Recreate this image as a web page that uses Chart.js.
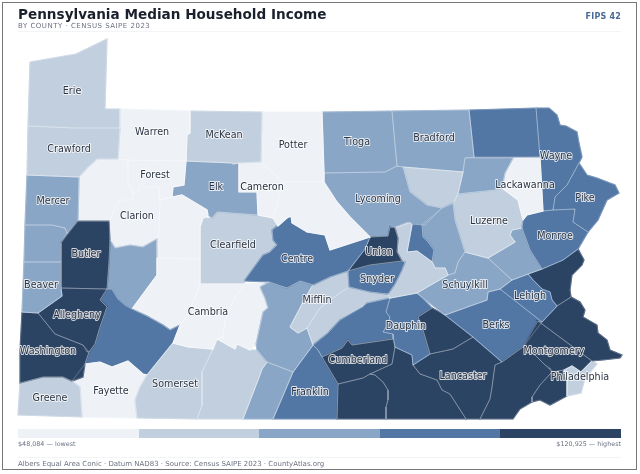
<!DOCTYPE html>
<html>
<head>
<meta charset="utf-8">
<title>Pennsylvania Median Household Income</title>
<script src="https://cdn.jsdelivr.net/npm/chart.js@4/dist/chart.umd.min.js"></script>
<style>
    html, body { margin: 0; padding: 0; background: #fff; }
    body { width: 640px; height: 474px; position: relative; overflow: hidden; font-family: "DejaVu Sans", sans-serif; }
    #map { position: absolute; left: 0; top: 0; }
    .frame { position: absolute; left: 2px; top: 2px; width: 633px; height: 466px; border: 1px solid #777; }
    .txt { position: absolute; white-space: nowrap; }
    #title { left: 18px; top: 4px; font-size: 13.6px; line-height: 20px; font-weight: bold; color: #1a202c; }
    #sub { left: 18px; top: 21px; font-size: 7px; line-height: 10px; color: #6b7280; letter-spacing: 0.5px; }
    #fips { right: 19px; top: 11px; font-size: 8px; line-height: 12px; font-weight: bold; color: #4a6a96; letter-spacing: 0.2px; }
    .rule { position: absolute; left: 18px; width: 603px; height: 1px; background: #f3f4f6; }
    #ramp { position: absolute; left: 18px; top: 429px; width: 603px; height: 9px; display: flex; }
    #ramp div { flex: 1; }
    .small { font-size: 6.4px; line-height: 10px; color: #6b7280; }
    #foot { left: 18px; top: 459px; font-size: 7px; line-height: 10px; color: #6b7280; }
</style>
</head>
<body>
<canvas id="map" width="640" height="474"></canvas>
<div class="frame"></div>
<div class="txt" id="title">Pennsylvania Median Household Income</div>
<div class="txt" id="sub">BY COUNTY · CENSUS SAIPE 2023</div>
<div class="txt" id="fips">FIPS 42</div>
<div class="rule" style="top:31px"></div>
<div id="ramp"></div>
<div class="txt small" style="left:18px;top:439px">$48,084 — lowest</div>
<div class="txt small" style="right:19px;top:439px">$120,925 — highest</div>
<div class="rule" style="top:457px"></div>
<div class="txt" id="foot">Albers Equal Area Conic · Datum NAD83 · Source: Census SAIPE 2023 · CountyAtlas.org</div>

<script>
// income bins, low to high
const binColors = ['#eef1f6', '#c1cfdf', '#8aa6c6', '#5277a5', '#2c4464'];

// county outlines (map units)
const erie = [[30,62],[76,54],[107,39],[105,109],[120,109],[120,128],[74,128],[28,126]];
const crawford = [[28,126],[74,128],[120,128],[118,159],[97,159],[88,167],[79,177],[27,175]];
const warren = [[120,109],[190,111],[190,133],[187,135],[186,161],[128,160],[118,159],[120,128]];
const mckean = [[190,111],[262,112],[261,162],[239,163],[233,164],[233,163],[186,161],[187,135],[190,133]];
const potter = [[262,112],[322,112],[324,173],[324,182],[283,182],[261,162]];
const cameron = [[239,163],[261,162],[283,182],[273,218],[258,215],[257,192],[239,192]];
const clinton = [[283,182],[324,182],[337,202],[350,217],[370,237],[330,250],[325,235],[307,232],[292,223],[291,216],[287,218],[278,226],[273,218]];
const centre = [[244,281],[252,270],[263,255],[270,252],[277,245],[273,240],[272,230],[287,218],[291,216],[292,223],[307,232],[325,235],[330,250],[370,237],[365,249],[348,271],[330,277],[313,285],[300,281],[287,288],[269,282]];
const union = [[370,237],[388,236],[390,227],[395,228],[398,238],[397,252],[402,261],[370,265],[348,271],[365,249]];
const snyder = [[348,271],[370,265],[402,261],[405,262],[402,270],[395,284],[388,294],[370,292],[349,287]];
const northumberland = [[395,228],[410,223],[412,225],[407,252],[417,251],[432,262],[435,268],[445,268],[448,275],[417,293],[390,298],[388,294],[395,284],[402,270],[405,262],[402,261],[397,252],[398,238]];
const montour = [[412,224],[422,225],[423,237],[428,242],[434,250],[432,262],[417,251],[407,252]];
const columbia = [[442,208],[453,203],[455,220],[465,252],[458,262],[455,273],[448,275],[445,268],[435,268],[432,262],[434,250],[428,242],[423,237],[422,225]];
const lycoming = [[324,173],[385,172],[397,166],[403,167],[410,192],[427,205],[442,208],[425,225],[412,224],[408,222],[395,227],[390,227],[388,236],[370,237],[350,217],[337,202],[324,182]];
const sullivan = [[403,167],[463,172],[458,193],[454,203],[442,208],[427,205],[410,192]];
const tioga = [[322,112],[392,111],[397,166],[385,172],[324,173]];
const bradford = [[392,111],[469,110],[474,157],[465,158],[463,172],[403,167],[397,166]];
const susquehanna = [[469,110],[536,108],[540,157],[474,157]];
const wyoming = [[465,158],[513,158],[505,173],[502,188],[495,190],[458,194],[463,172]];
const lackawanna = [[513,158],[540,157],[543,211],[527,215],[523,220],[518,200],[502,188],[505,173]];
const wayne = [[536,108],[549,108],[557,115],[560,125],[566,126],[577,132],[579,143],[582,157],[579,163],[567,185],[555,197],[553,210],[543,211],[540,157]];
const pike = [[579,163],[587,175],[597,178],[615,185],[619,193],[607,200],[598,220],[588,232],[573,222],[575,209],[553,210],[555,197],[567,185]];
const monroe = [[527,215],[543,211],[553,210],[575,209],[573,222],[588,232],[578,249],[563,260],[542,269],[530,250],[522,228],[523,220]];
const luzerne = [[458,194],[495,190],[502,188],[518,200],[523,220],[522,228],[512,230],[510,235],[515,242],[488,258],[465,252],[455,220],[453,203]];
const carbon = [[512,230],[522,228],[530,250],[542,269],[528,274],[512,280],[488,258],[515,242],[510,235]];
const schuylkill = [[465,252],[488,258],[512,280],[500,289],[488,292],[487,300],[473,305],[445,315],[417,293],[448,275],[455,273],[458,262]];
const lehigh = [[500,289],[512,280],[528,274],[533,280],[542,289],[550,292],[552,300],[557,306],[542,322]];
const northampton = [[528,274],[542,269],[563,260],[578,249],[584,260],[582,265],[572,275],[570,290],[571,297],[557,306],[552,300],[550,292],[542,289],[533,280]];
const bucks = [[557,306],[571,297],[580,302],[585,310],[583,317],[597,325],[598,333],[607,340],[610,350],[622,355],[620,358],[603,360],[592,361],[538,321],[542,322]];
const philadelphia = [[592,361],[597,364],[585,378],[581,393],[567,396],[567,380],[564,370],[572,366],[581,372]];
const montgomery = [[538,321],[592,361],[581,372],[572,366],[564,370],[553,372],[550,368],[545,365],[539,359],[535,355],[523,347]];
const delaware = [[552,372],[564,370],[567,380],[567,396],[550,405],[540,400],[532,402],[532,397],[540,385]];
const chester = [[523,347],[535,355],[539,359],[545,365],[552,372],[540,385],[532,397],[532,402],[520,409],[513,419],[480,419],[490,399],[492,387],[495,365],[502,362]];
const berks = [[445,315],[473,305],[487,300],[488,292],[500,289],[542,322],[523,347],[502,362],[473,337]];
const lebanon = [[432,308],[445,315],[473,337],[453,349],[430,354],[423,330],[418,317]];
const dauphin = [[390,298],[417,293],[432,308],[418,317],[423,330],[430,354],[413,365],[412,355],[395,347],[393,334],[383,332],[388,324],[390,317],[386,312]];
const lancaster = [[413,365],[430,354],[453,349],[473,337],[502,362],[495,365],[492,387],[490,399],[480,419],[466,419],[450,394],[442,390],[437,380],[420,374]];
const york = [[370,374],[392,364],[395,347],[412,355],[413,365],[420,374],[437,380],[442,390],[450,394],[466,419],[386,419],[386,407],[388,400],[388,390],[383,382],[375,375]];
const adams = [[338,384],[363,378],[370,374],[375,375],[383,382],[388,390],[388,400],[386,407],[386,419],[337,419]];
const cumberland = [[322,357],[342,348],[348,340],[352,345],[393,339],[395,347],[392,364],[370,374],[363,378],[338,384]];
const perry = [[313,345],[328,333],[340,320],[363,307],[367,303],[390,298],[386,312],[390,317],[388,324],[383,332],[393,334],[393,339],[352,345],[348,340],[342,348],[322,357],[318,350]];
const juniata = [[307,328],[320,308],[337,295],[349,287],[370,292],[388,294],[390,298],[367,303],[340,320],[328,333],[313,345]];
const mifflin = [[290,327],[300,308],[305,298],[313,285],[330,277],[348,271],[349,287],[337,295],[320,308],[307,328],[298,333]];
const huntingdon = [[260,287],[269,282],[287,288],[300,281],[313,285],[305,298],[300,308],[290,327],[298,333],[307,328],[313,345],[293,372],[267,362],[257,350],[256,344],[263,312],[268,308],[265,298]];
const cambria = [[200,284],[245,284],[235,297],[225,320],[223,337],[217,339],[213,349],[188,347],[173,343],[180,325],[187,317]];
const blair = [[245,284],[269,282],[260,287],[265,298],[268,308],[263,312],[256,344],[250,350],[237,344],[235,349],[217,339],[223,337],[225,320],[235,297]];
const bedford = [[217,339],[235,349],[237,344],[250,350],[257,350],[267,362],[262,369],[258,380],[243,419],[197,419],[202,405],[202,372],[213,349]];
const somerset = [[173,343],[188,347],[213,349],[202,372],[202,405],[197,419],[137,418],[135,400],[140,387],[147,375]];
const fulton = [[267,362],[293,372],[273,419],[243,419],[258,380],[262,369]];
const franklin = [[293,372],[313,345],[318,350],[322,357],[338,384],[337,419],[273,419]];
const butler = [[78,221],[109,221],[110,240],[109,262],[107,289],[61,288],[61,243]];
const mercer = [[27,175],[79,177],[78,221],[67,233],[65,228],[52,225],[25,225]];
const lawrence = [[25,225],[52,225],[65,228],[67,233],[61,243],[61,262],[24,262]];
const beaver = [[24,262],[61,262],[61,288],[62,296],[38,313],[22,312]];
const allegheny = [[61,288],[107,289],[100,300],[107,307],[100,327],[95,344],[89,352],[83,345],[55,334],[38,313],[62,296]];
const washington = [[22,312],[38,313],[55,334],[83,345],[87,352],[89,352],[85,364],[83,377],[72,381],[63,377],[43,377],[20,383],[20,350]];
const greene = [[20,383],[43,377],[63,377],[72,381],[80,387],[82,417],[18,415]];
const fayette = [[72,381],[85,364],[100,362],[112,367],[128,361],[143,374],[147,375],[140,387],[135,400],[137,418],[82,417],[80,387]];
const westmoreland = [[112,289],[107,289],[100,300],[107,307],[100,327],[95,344],[89,352],[85,364],[100,362],[112,367],[128,361],[143,374],[147,375],[173,343],[180,325],[170,330],[163,325],[147,316],[132,309],[125,305],[118,299]];
const indiana = [[157,258],[200,259],[200,284],[187,317],[180,325],[170,330],[163,325],[147,316],[132,309],[157,275]];
const armstrong = [[110,240],[115,248],[130,245],[143,247],[157,239],[157,275],[132,309],[125,305],[118,299],[112,289],[107,289],[109,262]];
const venango = [[79,177],[88,167],[97,159],[118,159],[128,160],[128,183],[133,193],[132,200],[120,200],[115,207],[110,221],[78,221]];
const forest = [[128,160],[186,161],[184,185],[173,187],[172,197],[160,200],[159,187],[139,187],[138,192],[133,193],[128,183]];
const clarion = [[139,187],[159,187],[160,200],[159,233],[157,239],[143,247],[130,245],[115,248],[110,240],[110,221],[115,207],[120,200],[132,200],[133,193],[138,192]];
const jefferson = [[160,200],[172,197],[182,195],[207,210],[208,215],[203,218],[200,227],[200,259],[157,258],[157,239],[159,233]];
const elk = [[186,161],[233,163],[239,163],[239,192],[257,192],[258,215],[217,212],[212,218],[208,215],[207,210],[182,195],[172,197],[173,187],[184,185]];
const clearfield = [[203,218],[212,218],[217,212],[258,215],[273,218],[278,226],[272,230],[273,240],[277,245],[270,252],[263,255],[252,270],[244,281],[245,284],[200,284],[200,227]];

const countyOutlines = [erie, crawford, warren, mckean, potter, cameron, clinton, centre, union, snyder,
    northumberland, montour, columbia, lycoming, sullivan, tioga, bradford, susquehanna, wyoming, lackawanna,
    wayne, pike, monroe, luzerne, carbon, schuylkill, lehigh, northampton, bucks, philadelphia,
    montgomery, delaware, chester, berks, lebanon, dauphin, lancaster, york, adams, cumberland,
    perry, juniata, mifflin, huntingdon, cambria, blair, bedford, somerset, fulton, franklin,
    butler, mercer, lawrence, beaver, allegheny, washington, greene, fayette, westmoreland, indiana,
    armstrong, venango, forest, clarion, jefferson, elk, clearfield];
// same order as countyOutlines
const countyBins = [1, 1, 0, 1, 0, 0, 0, 3, 4, 3,
    1, 3, 2, 2, 1, 2, 2, 3, 2, 0,
    3, 3, 3, 1, 2, 2, 3, 4, 4, 1,
    4, 4, 4, 3, 4, 3, 4, 4, 4, 4,
    3, 1, 1, 2, 0, 0, 1, 1, 2, 3,
    4, 2, 2, 2, 4, 4, 1, 0, 3, 0,
    2, 0, 0, 0, 0, 2, 1];

const labelNames = ['Erie', 'Crawford', 'Warren', 'McKean', 'Potter', 'Tioga', 'Bradford', 'Wayne', 'Forest', 'Elk',
    'Cameron', 'Lackawanna', 'Pike', 'Mercer', 'Clarion', 'Lycoming', 'Luzerne', 'Monroe', 'Clearfield', 'Centre',
    'Union', 'Butler', 'Beaver', 'Snyder', 'Mifflin', 'Schuylkill', 'Lehigh', 'Allegheny', 'Cambria', 'Dauphin',
    'Berks', 'Washington', 'Montgomery', 'Cumberland', 'Lancaster', 'Philadelphia', 'Franklin', 'Somerset', 'Fayette', 'Greene'];
const labelX = [72, 69, 152, 224, 293, 357, 434, 556, 155, 216,
    262, 525, 585, 53, 137, 378, 489, 555, 233, 297,
    379, 86, 41, 377, 317, 465, 530, 77, 208, 406,
    496, 48, 554, 358, 463, 580, 310, 175, 111, 50];
const labelY = [91, 149, 132, 135, 145, 142, 138, 156, 175, 187,
    187, 185, 198, 201, 216, 199, 221, 236, 245, 259,
    252, 254, 285, 279, 300, 285, 296, 315, 312, 326,
    325, 351, 351, 360, 376, 377, 392, 384, 391, 398];

// county names sit on top of the fills, white halo first
const countyLabels = {
    id: 'countyLabels',
    afterDatasetsDraw(chart) {
        const { ctx, scales } = chart;
        ctx.save();
        ctx.font = '9.6px "DejaVu Sans"';
        ctx.textAlign = 'center';
        ctx.textBaseline = 'middle';
        ctx.lineJoin = 'round';
        labelNames.forEach((name, i) => {
            const x = scales.x.getPixelForValue(labelX[i]);
            const y = scales.y.getPixelForValue(labelY[i]);
            ctx.strokeStyle = 'rgba(255,255,255,0.8)';
            ctx.lineWidth = 1.8;
            ctx.strokeText(name, x, y);
            ctx.fillStyle = '#2b3442';
            ctx.fillText(name, x, y);
        });
        ctx.restore();
    }
};

document.getElementById('ramp').innerHTML = binColors.map(c => `<div style="background:${c}"></div>`).join('');

const toPoints = outline => outline.concat([outline[0]]).map(p => ({ x: p[0], y: p[1] }));

// fills carry a border in their own colour so neighbours close up, white lines go on top
const fillSets = countyOutlines.map((outline, i) => ({
    data: toPoints(outline),
    showLine: true,
    fill: 'shape',
    backgroundColor: binColors[countyBins[i]],
    borderColor: binColors[countyBins[i]],
    borderWidth: 1.2,
    pointRadius: 0,
    tension: 0,
    order: 1
}));
const lineSets = countyOutlines.map(outline => ({
    data: toPoints(outline),
    showLine: true,
    fill: false,
    borderColor: 'rgba(255,255,255,0.35)',
    borderWidth: 0.7,
    pointRadius: 0,
    tension: 0,
    order: 0
}));

new Chart(document.getElementById('map'), {
    type: 'scatter',
    data: { datasets: lineSets.concat(fillSets) },
    options: {
        responsive: false,
        animation: false,
        layout: { padding: 0 },
        scales: {
            x: { display: false, min: 0, max: 640 },
            y: { display: false, min: 0, max: 474, reverse: true }
        },
        plugins: { legend: { display: false }, tooltip: { enabled: false } }
    },
    plugins: [countyLabels]
});
</script>
</body>
</html>
